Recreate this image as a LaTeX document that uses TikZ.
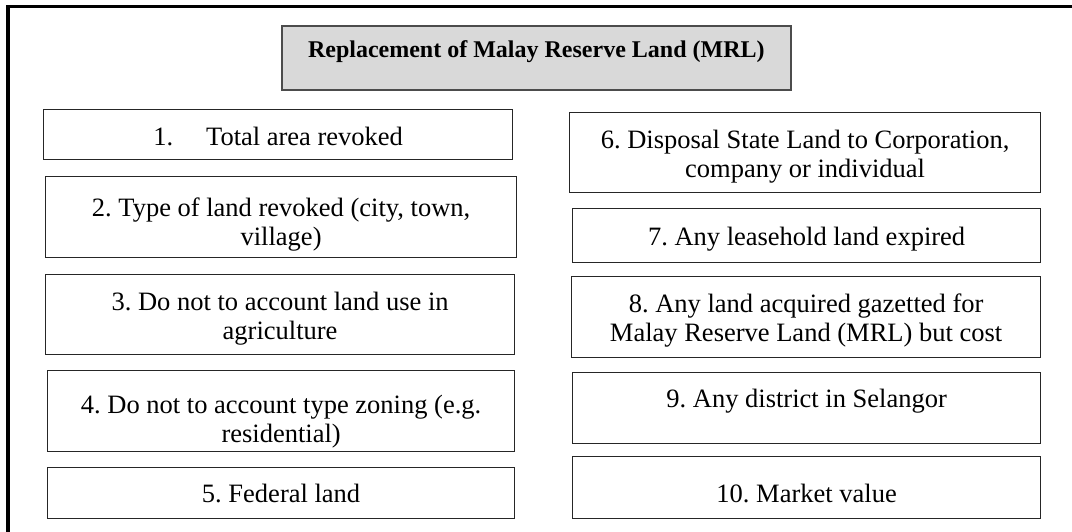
\documentclass[tikz,border=0pt]{standalone}
\usepackage{fontspec}
\setmainfont{Liberation Serif}
\definecolor{titlegray}{RGB}{217,217,217}
\newcommand{\boxlines}[1]{\begin{tabular}[b]{@{}c@{}}#1\end{tabular}}
\frenchspacing
\begin{document}
\begin{tikzpicture}[x=1pt,y=-1pt,
  box/.style={draw=black!85, line width=1.2pt, fill=white, anchor=north west,
    inner sep=0pt, font=\fontsize{26.5}{29}\selectfont\frenchspacing},
  titlebox/.style={draw=black!70, line width=1.6pt, fill=titlegray, anchor=north west,
    inner sep=0pt, font=\fontsize{24}{28}\selectfont\bfseries\frenchspacing}]
\useasboundingbox (0,0) rectangle (1072,532);
\draw[line width=3.2pt] (8,533) -- (8,6.5) -- (1073,6.5);
% title
\node[titlebox, minimum width=509pt, text height=32pt, text depth=32pt] (title) at (281,25)
  {Replacement of Malay Reserve Land (MRL)};
% left column
\node[box, minimum width=469pt, text height=36pt, text depth=14pt] (b1) at (43,109)
  {1.\hspace{33pt}Total area revoked};
\node[box, minimum width=471pt, text height=69pt, text depth=12pt] (b2) at (45,176)
  {\boxlines{2. Type of land revoked (city, town,\\ village)}};
\node[box, minimum width=469pt, text height=65pt, text depth=15pt] (b3) at (45,274)
  {\boxlines{3. Do not to account land use in\\ agriculture}};
\node[box, minimum width=467pt, text height=72pt, text depth=9pt] (b4) at (47,370)
  {\boxlines{4. Do not to account type zoning (e.g.\\ residential)}};
\node[box, minimum width=467pt, text height=35pt, text depth=16pt] (b5) at (47,467)
  {5. Federal land};
% right column
\node[box, minimum width=471pt, text height=65pt, text depth=15pt] (b6) at (569,112)
  {\boxlines{6. Disposal State Land to Corporation,\\ company or individual}};
\node[box, minimum width=468pt, text height=37pt, text depth=17pt] (b7) at (572,208)
  {7. Any leasehold land expired};
\node[box, minimum width=469pt, text height=65pt, text depth=16pt] (b8) at (571,276)
  {\boxlines{8. Any land acquired gazetted for\\ Malay Reserve Land (MRL) but cost}};
\node[box, minimum width=468pt, text height=35pt, text depth=36pt] (b9) at (572,372)
  {9. Any district in Selangor};
\node[box, minimum width=468pt, text height=46pt, text depth=16pt] (b10) at (572,456)
  {10. Market value};
\end{tikzpicture}
\end{document}
